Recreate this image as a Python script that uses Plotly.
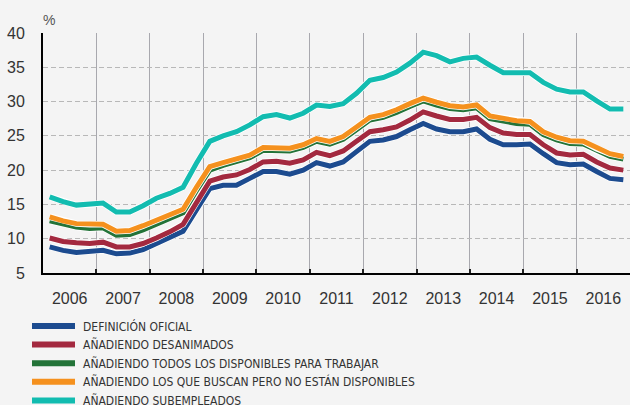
import plotly.graph_objects as go

years = list(range(2006, 2017))
quarters = [1, 2, 3, 4]
periods = [(y, q) for y in years for q in quarters]

series_names = [
    "DEFINICIÓN OFICIAL",
    "AÑADIENDO DESANIMADOS",
    "AÑADIENDO TODOS LOS DISPONIBLES PARA TRABAJAR",
    "AÑADIENDO LOS QUE BUSCAN PERO NO ESTÁN DISPONIBLES",
    "AÑADIENDO SUBEMPLEADOS",
]

oficial = [8.8, 8.3, 8.0, 8.2, 8.3, 7.8, 7.9, 8.4, 9.3, 10.2, 11.1, 14.2,
           17.3, 17.8, 17.8, 18.8, 19.8, 19.8, 19.4, 20.0, 21.1, 20.6, 21.2, 22.7,
           24.2, 24.4, 24.9, 25.9, 26.8, 26.0, 25.6, 25.6, 26.0, 24.5, 23.7, 23.7,
           23.8, 22.4, 21.1, 20.8, 20.9, 19.8, 18.8, 18.6]
desanimados = [10.1, 9.6, 9.4, 9.3, 9.5, 8.8, 8.8, 9.3, 10.1, 11.0, 12.1, 15.3,
               18.4, 19.0, 19.3, 20.1, 21.2, 21.3, 21.0, 21.5, 22.6, 22.1, 22.8, 24.2,
               25.6, 25.9, 26.3, 27.3, 28.5, 27.9, 27.4, 27.4, 27.7, 26.2, 25.4, 25.2,
               25.2, 23.7, 22.5, 22.2, 22.3, 21.2, 20.3, 20.0]
disponibles = [12.6, 12.1, 11.7, 11.5, 11.6, 10.5, 10.6, 11.3, 12.1, 12.9, 13.8, 17.0,
               20.0, 20.7, 21.2, 21.8, 22.9, 22.9, 22.8, 23.3, 24.2, 23.8, 24.5, 25.9,
               27.3, 27.7, 28.4, 29.3, 30.1, 29.5, 29.0, 28.8, 29.1, 27.5, 27.2, 26.8,
               26.7, 25.2, 24.4, 23.9, 23.8, 22.8, 22.0, 21.6]
buscan = [13.2, 12.6, 12.2, 12.1, 12.1, 11.1, 11.2, 11.9, 12.7, 13.4, 14.3, 17.5,
          20.5, 21.1, 21.6, 22.2, 23.3, 23.3, 23.2, 23.7, 24.6, 24.2, 24.9, 26.3,
          27.7, 28.1, 28.8, 29.7, 30.5, 29.9, 29.4, 29.2, 29.5, 27.9, 27.6, 27.2,
          27.1, 25.6, 24.8, 24.3, 24.2, 23.2, 22.4, 22.0]
subempleados = [16.1, 15.4, 14.9, 15.0, 15.2, 13.9, 13.9, 14.8, 15.9, 16.6, 17.5, 21.0,
                24.2, 25.0, 25.6, 26.6, 27.8, 28.1, 27.6, 28.3, 29.5, 29.3, 29.7, 31.2,
                33.1, 33.5, 34.3, 35.6, 37.2, 36.7, 35.8, 36.3, 36.5, 35.3, 34.2, 34.2,
                34.2, 32.8, 31.8, 31.4, 31.4, 30.1, 28.9, 28.9]

colors = ["#1c4b8f", "#a3293f", "#237338", "#f5911e", "#12bcb0"]
all_values = [oficial, desanimados, disponibles, buscan, subempleados]

# quarter midpoints on a continuous year axis
x = [y + (q - 0.5) / 4 for (y, q) in periods]

fig = go.Figure()
for name, vals, col in zip(series_names, all_values, colors):
    fig.add_trace(go.Scatter(x=x, y=vals, mode="lines", showlegend=False,
                             hoverinfo="skip",
                             line=dict(color="white", width=6.5)))
    fig.add_trace(go.Scatter(x=x, y=vals, mode="lines", name=name, showlegend=False,
                             line=dict(color=col, width=5)))

W, H = 630, 405
L, R, T, B = 43, 0, 33, 132
pw, ph = W - L - R, H - T - B

def px_x(p):
    return (p - L) / pw

def px_y(p):
    return (H - B - p) / ph

tick_font = dict(family="Liberation Sans, Arial, sans-serif", size=16, color="#333333")

fig.update_layout(
    width=W, height=H,
    margin=dict(l=L, r=R, t=T, b=B),
    paper_bgcolor="#f4f4f4",
    plot_bgcolor="#f4f4f4",
    showlegend=False,
    xaxis=dict(
        range=[2006, 2017],
        tickmode="array",
        tickvals=[y + 0.5 for y in years],
        ticktext=[str(y) for y in years],
        ticks="",
        showgrid=False,
        zeroline=False,
        showline=True, linecolor="black", linewidth=2,
        tickfont=tick_font,
        ticklabelstandoff=10,
        minor=dict(tickmode="array", tickvals=years[1:], ticks="inside",
                   ticklen=4, tickwidth=2, tickcolor="#222222",
                   showgrid=True, gridcolor="#a8a8ae", gridwidth=1),
    ),
    yaxis=dict(
        range=[5, 40],
        tickmode="array",
        tickvals=[5, 10, 15, 20, 25, 30, 35, 40],
        ticks="",
        showgrid=True, gridcolor="#b8b8b8", gridwidth=1, griddash="5px,3px",
        zeroline=False,
        showline=True, linecolor="black", linewidth=2,
        tickfont=tick_font,
        ticklabelstandoff=13,
    ),
)

fig.add_annotation(text="%", xref="paper", yref="paper", x=px_x(41), y=px_y(20),
                   xanchor="left", yanchor="middle", showarrow=False,
                   font=dict(family="Liberation Sans, Arial, sans-serif", size=14, color="#555555"))

legend_font = dict(family="Liberation Sans Narrow, DejaVu Sans Condensed, Arial Narrow, sans-serif",
                   size=12, color="#333333")
for i, (name, col) in enumerate(zip(series_names, colors)):
    py = 326 + 18.6 * i
    fig.add_shape(type="line", xref="paper", yref="paper",
                  x0=px_x(32), x1=px_x(75), y0=px_y(py), y1=px_y(py),
                  line=dict(color=col, width=6))
    fig.add_annotation(text=name, xref="paper", yref="paper",
                       x=px_x(81), y=px_y(py), xanchor="left", yanchor="middle",
                       showarrow=False, font=legend_font)

fig.write_html("out.html", config={"displayModeBar": False},
               post_script="document.body.style.margin='0';document.body.style.overflow='hidden';")
